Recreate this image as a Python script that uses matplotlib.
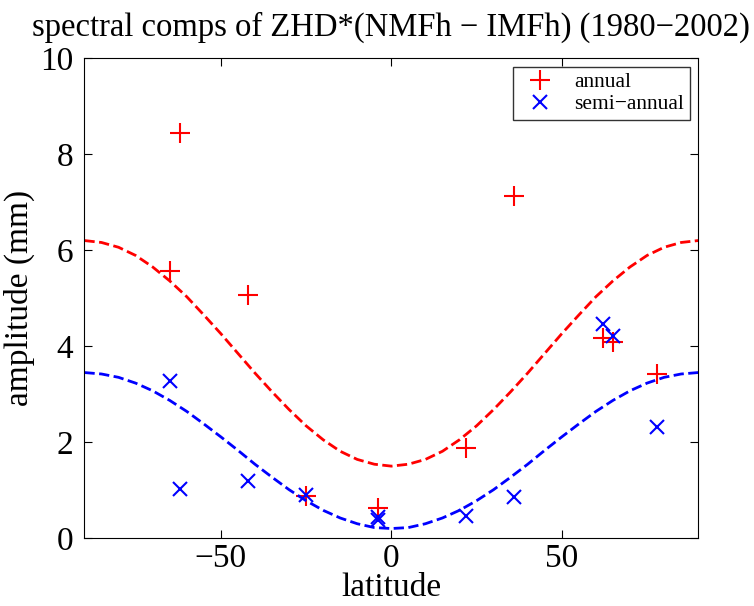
import matplotlib
matplotlib.use("Agg")
import matplotlib.pyplot as plt

plt.rcParams["font.family"] = ["Liberation Serif", "DejaVu Serif"]

# station values
annual_lat = [-62, -65, -42, -25, -4, 22, 36, 62, 65, 78]
annual_amp = [8.45, 5.57, 5.07, 0.88, 0.62, 1.87, 7.12, 4.18, 4.08, 3.42]

semi_lat = [-65, -62, -42, -25, -4, -4, 22, 36, 62, 65, 78]
semi_amp = [3.28, 1.02, 1.20, 0.90, 0.45, 0.38, 0.47, 0.86, 4.47, 4.22, 2.32]

# model curves (dashed), sampled every 5 degrees
curve_lat = [-90, -85, -80, -75, -70, -65, -60, -55, -50, -45, -40, -35, -30,
             -25, -20, -15, -10, -5, 0, 5, 10, 15, 20, 25, 30, 35, 40, 45,
             50, 55, 60, 65, 70, 75, 80, 85, 90]
curve_annual = [6.20, 6.16, 6.06, 5.89, 5.65, 5.36, 5.03, 4.65, 4.26, 3.85,
                3.44, 3.05, 2.68, 2.34, 2.05, 1.81, 1.64, 1.54, 1.50, 1.54,
                1.64, 1.81, 2.05, 2.34, 2.68, 3.05, 3.44, 3.85, 4.26, 4.65,
                5.03, 5.36, 5.65, 5.89, 6.06, 6.16, 6.20]
curve_semi = [3.45, 3.42, 3.35, 3.23, 3.07, 2.87, 2.64, 2.38, 2.11, 1.83,
              1.54, 1.27, 1.01, 0.78, 0.58, 0.42, 0.30, 0.22, 0.20, 0.22,
              0.30, 0.42, 0.58, 0.78, 1.01, 1.27, 1.54, 1.83, 2.11, 2.38,
              2.64, 2.87, 3.07, 3.23, 3.35, 3.42, 3.45]

fig = plt.figure(figsize=(7.54, 6.06), dpi=100)
ax = fig.add_axes([0.112, 0.112, 0.814, 0.792])

ax.plot(annual_lat, annual_amp, "+", color="red", ms=14, mew=1.5, label="annual")
ax.plot(semi_lat, semi_amp, "x", color="blue", ms=10, mew=1.5, label="semi\u2212annual")
ax.plot(curve_lat, curve_annual, "--", color="red", lw=2)
ax.plot(curve_lat, curve_semi, "--", color="blue", lw=2)

ax.set_xlim(-90, 90)
ax.set_ylim(0, 10)
ax.set_xticks([-50, 0, 50])
ax.set_xticklabels(["\u221250", "0", "50"])
ax.set_yticks([0, 2, 4, 6, 8, 10])
ax.tick_params(direction="in", top=True, right=True, labelsize=24, length=6)
ax.tick_params(axis="x", pad=4)
ax.tick_params(axis="y", pad=8)

ax.set_xlabel("latitude", fontsize=24, labelpad=-1)
ax.set_ylabel("amplitude (mm)", fontsize=24, labelpad=4)
ax.set_title("spectral comps of ZHD*(NMFh \u2212 IMFh) (1980\u22122002)", fontsize=23.5, pad=16)

leg = ax.legend(loc="upper right", fontsize=15.5, fancybox=False, edgecolor="black",
                borderaxespad=0.4, handlelength=2.0, handletextpad=0.6,
                borderpad=0.25, labelspacing=0.1)
leg.get_frame().set_linewidth(1.0)

fig.savefig("out.png", dpi=100)
